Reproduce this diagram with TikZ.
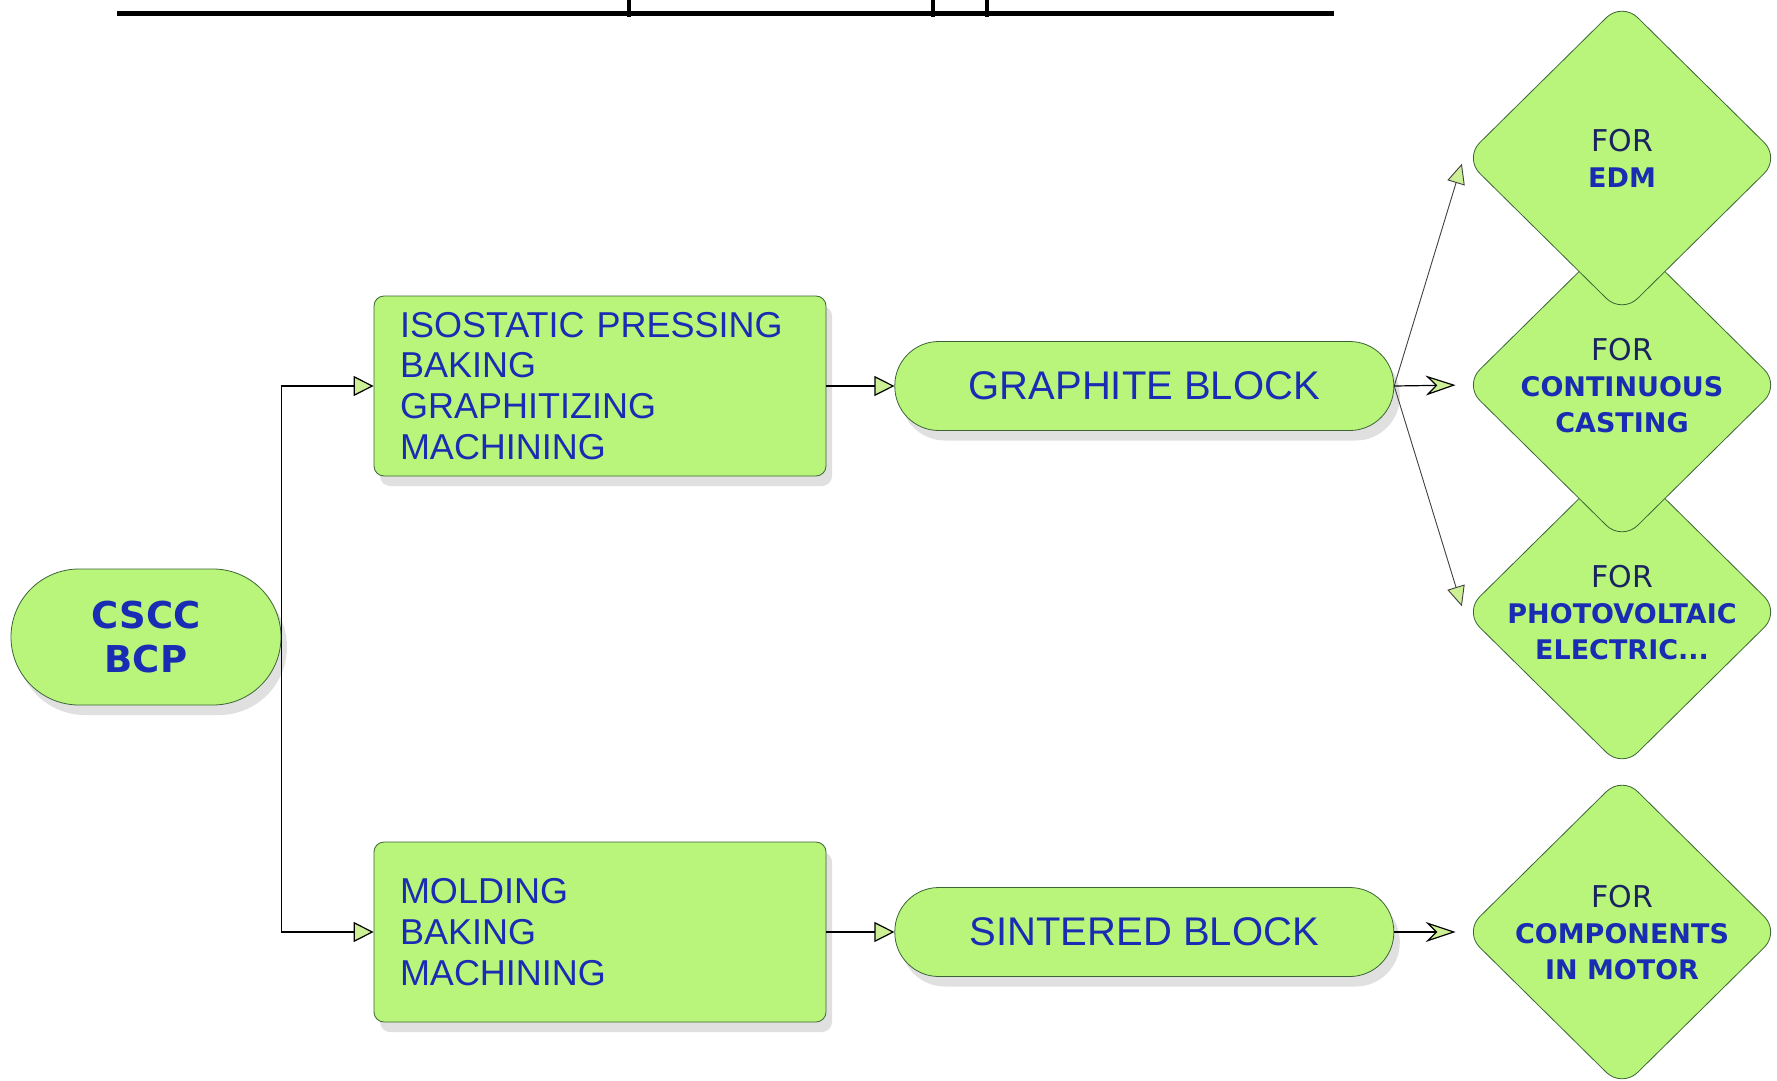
\documentclass[tikz,border=0pt]{standalone}
\usepackage{fontspec}
\setmainfont{Liberation Sans}
\newfontfamily\widefont{DejaVu Sans}
\usetikzlibrary{shapes.geometric, arrows.meta, positioning, shadows}
\definecolor{lgreen}{RGB}{184,245,122}
\definecolor{tipgreen}{RGB}{205,240,150}
\definecolor{dgreen}{RGB}{60,100,55}
\definecolor{tblue}{RGB}{25,45,180}
\definecolor{nblue}{RGB}{25,35,95}
\newcommand{\forlabel}[1]{\makebox[0pt]{\raisebox{-5.5pt}[0pt][0pt]{%
  \widefont\bfseries\fontsize{13.5}{18}\selectfont
  \begin{tabular}{@{}c@{}}%
  {\color{nblue}\mdseries\fontsize{15}{18}\selectfont FOR}\\%
  #1\end{tabular}}}}

\begin{document}
\begin{tikzpicture}[x=0.5pt, y=-0.5pt,
  shade/.style={drop shadow={shadow xshift=3pt, shadow yshift=-5pt,
    opacity=0.12, fill=black}},
  term/.style={
    rectangle, rounded corners=34pt, shade,
    draw=dgreen, fill=lgreen, text=tblue,
    minimum width=135pt, minimum height=68pt, align=center,
    font=\widefont\bfseries\fontsize{18.5}{22}\selectfont
  },
  stepbox/.style={
    rectangle, rounded corners=5pt, shade,
    draw=dgreen, fill=lgreen, text=tblue,
    text width=200pt, inner xsep=13pt, align=left,
    minimum height=90pt, font=\fontsize{18}{20.4}\selectfont
  },
  block/.style={
    rectangle, rounded corners=22pt, shade,
    draw=dgreen, fill=lgreen, text=tblue,
    minimum width=249.5pt, minimum height=44.5pt,
    font=\fontsize{20}{24}\selectfont
  },
  use/.style={
    diamond, rounded corners=11pt, draw=dgreen, fill=lgreen,
    text=tblue, inner sep=0pt, minimum width=158pt, minimum height=156pt
  },
  arr/.style={-{Triangle[length=10pt, width=10pt, fill=tipgreen]}, line width=0.6pt},
  darr/.style={-{Triangle[length=10pt, width=9pt, fill=tipgreen]}, line width=0.45pt,
    draw=black!75, shorten >=3pt},
  harr/.style={-{Stealth[length=15pt, width=10pt, inset=5pt, fill=tipgreen]},
    line width=0.6pt, shorten >=4pt}
]
  \useasboundingbox (0,0) rectangle (1777,1081);

  \draw[line width=2.5pt] (117,14) -- (1334,14);
  \foreach \x in {629,933,987}
    \draw[line width=2pt] (\x,0) -- (\x,17);

  \node[term] (cscc) at (146,637) {CSCC\\BCP};
  \node[stepbox] (press) at (600,386)
    {ISOSTATIC PRESSING\\BAKING\\GRAPHITIZING\\MACHINING};
  \node[stepbox] (mold) at (600,932) {MOLDING\\BAKING\\MACHINING};
  \node[block, right=34pt of press] (graph) {GRAPHITE BLOCK};
  \node[block, right=34pt of mold] (sint) {SINTERED BLOCK};

  \node[use] (photo) at (1622,612) {\forlabel{PHOTOVOLTAIC\\ELECTRIC...}};
  \node[use] (cast) at (1622,385) {\forlabel{CONTINUOUS\\CASTING}};
  \node[use] (edm) at (1622,158) {\forlabel{EDM}};
  \node[use] (motor) at (1622,932) {\forlabel{COMPONENTS\\IN MOTOR}};

  \draw[arr] (cscc.east) |- (press.west);
  \draw[arr] (cscc.east) |- (mold.west);
  \draw[arr] (press) -- (graph);
  \draw[arr] (mold) -- (sint);

  \draw[darr] (graph.east) -- (edm.west);
  \draw[harr] (graph.east) -- (cast.west);
  \draw[darr] (graph.east) -- (photo.west);
  \draw[harr] (sint.east) -- (motor.west);
\end{tikzpicture}
\end{document}
